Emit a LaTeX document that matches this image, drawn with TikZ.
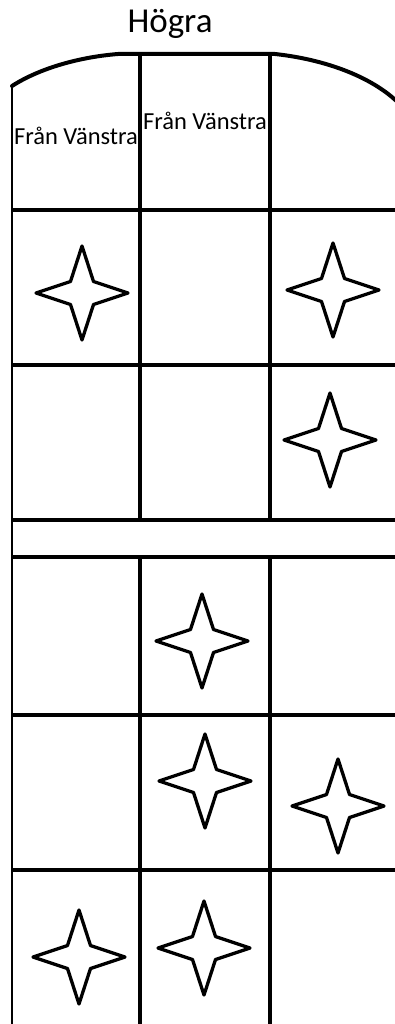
\documentclass[tikz,border=0pt]{standalone}
\usepackage{fontspec}
\setmainfont{Carlito}
\begin{document}
\begin{tikzpicture}[x=1pt,y=-1pt,
  gridthin/.style={line width=2.6pt},
  gridmid/.style={line width=3.2pt},
  gridthick/.style={line width=4.3pt},
  hline/.style={line width=4.2pt},
  archline/.style={line width=4pt,line cap=round},
  starline/.style={line width=3.3pt,line join=round},
  star4/.pic={\draw[starline] (0,-47) -- (11.5,-11.5) -- (46,0) -- (11.5,11.5) -- (0,47) -- (-11.5,11.5) -- (-46,0) -- (-11.5,-11.5) -- cycle;},
  title/.style={font=\fontsize{35}{42}\selectfont, anchor=base, inner sep=0pt},
  label/.style={font=\fontsize{24.5}{29}\selectfont, anchor=base, inner sep=0pt}
]
\useasboundingbox (0,0) rectangle (394,1024);
% roof arc
\draw[archline] (12,86) .. controls (40,68) and (80,57) .. (118,54) -- (275,54) .. controls (330,60) and (380,80) .. (405,110);
% verticals
\draw[gridthin] (12,85) -- (12,1026);
\draw[gridthick] (140,53) -- (140,520);
\draw[gridthick] (140,557) -- (140,1026);
\draw[gridmid] (270,55) -- (270,520);
\draw[gridmid] (270,557) -- (270,1026);
% horizontals
\foreach \yy in {210,365,520,557,715,870}
  \draw[hline] (11,\yy) -- (400,\yy);
% texts
\node[title] (hogra) at (170,33) {Högra};
\node[label] (fv1) at (76,145) {Från Vänstra};
\node[label] (fv2) at (205,130) {Från Vänstra};
% stars
\pic at (82,293) {star4};
\pic at (333,290) {star4};
\pic at (330,440) {star4};
\pic at (202,641) {star4};
\pic at (205,781) {star4};
\pic at (338,806) {star4};
\pic at (79,957) {star4};
\pic at (204,948) {star4};
\end{tikzpicture}
\end{document}
